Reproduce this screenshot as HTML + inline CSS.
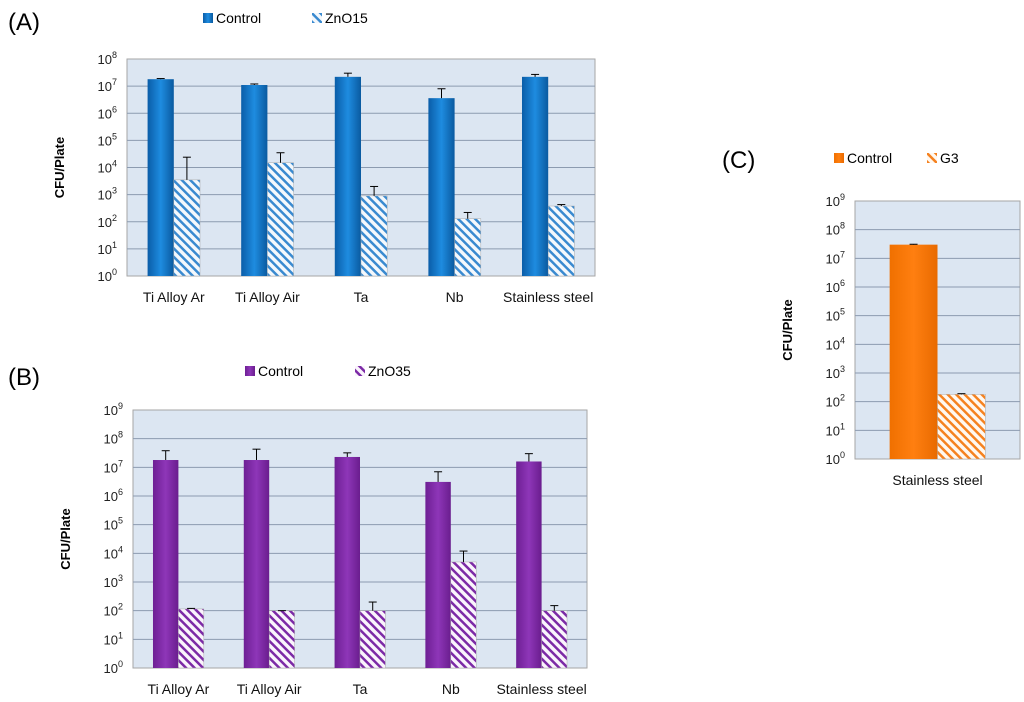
<!DOCTYPE html>
<html><head><meta charset="utf-8"><style>
body{margin:0;background:#fff;width:1024px;height:702px;overflow:hidden;font-family:"Liberation Sans",sans-serif}
svg{position:absolute;left:0;top:0}
</style></head><body>
<svg id="s" width="1024" height="702">
<defs>
<linearGradient id="gBlue" x1="0" x2="1"><stop offset="0" stop-color="#0a5da8"/><stop offset="0.5" stop-color="#1e8ce0"/><stop offset="1" stop-color="#0a5aa0"/></linearGradient>
<linearGradient id="gPurp" x1="0" x2="1"><stop offset="0" stop-color="#6e1f94"/><stop offset="0.5" stop-color="#8e36b8"/><stop offset="1" stop-color="#6a1d8e"/></linearGradient>
<linearGradient id="gOr" x1="0" x2="1"><stop offset="0" stop-color="#f07000"/><stop offset="0.5" stop-color="#ff7f10"/><stop offset="1" stop-color="#e86a00"/></linearGradient>
<pattern id="hBlue" width="6" height="6" patternUnits="userSpaceOnUse" patternTransform="rotate(-45)"><rect width="6" height="6" fill="#f4f8fc"/><rect width="2.5" height="6" fill="#3a8ad0"/></pattern>
<pattern id="hPurp" width="6" height="6" patternUnits="userSpaceOnUse" patternTransform="rotate(-45)"><rect width="6" height="6" fill="#faf4fc"/><rect width="2.5" height="6" fill="#7c2aa6"/></pattern>
<pattern id="hOr" width="6" height="6" patternUnits="userSpaceOnUse" patternTransform="rotate(-45)"><rect width="6" height="6" fill="#fff8f0"/><rect width="2.5" height="6" fill="#f58220"/></pattern>
</defs>
<text x="8" y="30" font-size="24">(A)</text>
<text x="8" y="385" font-size="24">(B)</text>
<text x="722" y="168" font-size="24">(C)</text>
</svg>
<script>
const categoriesAB = ["Ti Alloy Ar","Ti Alloy Air","Ta","Nb","Stainless steel"];
const controlA = [1.8e7,1.1e7,2.2e7,3.6e6,2.2e7];
const controlAErr = [1.9e7,1.2e7,3.0e7,8e6,2.7e7];
const zno15 = [3.5e3,1.5e4,900,130,380];
const zno15Err = [2.4e4,3.5e4,2e3,220,430];
const controlB = [1.8e7,1.8e7,2.3e7,3.1e6,1.6e7];
const controlBErr = [3.8e7,4.3e7,3.2e7,7e6,3e7];
const zno35 = [115,100,100,5e3,100];
const zno35Err = [120,100,200,1.2e4,150];
const categoriesC = ["Stainless steel"];
const controlC = [3e7];
const controlCErr = [3.1e7];
const g3 = [180];
const g3Err = [190];

const svg = document.getElementById('s');
const NS = 'http://www.w3.org/2000/svg';
function mk(tag, attrs, parent){
  const e = document.createElementNS(NS, tag);
  for (const k in attrs) e.setAttribute(k, attrs[k]);
  (parent||svg).appendChild(e);
  return e;
}
function chart(o){
  const g = mk('g', {});
  
  
  const y = v => o.y1 - (Math.log10(v) / o.maxExp) * (o.y1 - o.y0);
  const bg = mk('rect', {x:o.x0, y:o.y0, width:o.x1-o.x0, height:o.y1-o.y0, fill:'#dce6f2', stroke:'#a6a6a6'}, g);
  
  
  for (let i = 0; i <= o.maxExp; i++) {
    const yy = y(Math.pow(10, i));
    if (i > 0 && i < o.maxExp) mk('line', {x1:o.x0, x2:o.x1, y1:yy, y2:yy, stroke:'#8c9bb0', 'stroke-width':1}, g);
    const t = mk('text', {x:o.x0-10, y:yy+5, 'font-size':13, 'text-anchor':'end', fill:'#222'}, g);
    
    
    t.innerHTML = '10<tspan dy="-6" font-size="9">' + i + '</tspan>';
  }
  const n = o.cats.length, gw = (o.x1 - o.x0) / n, bw = gw * o.bw;
  o.cats.forEach((c, i) => {
    const cx = o.x0 + gw * (i + 0.5);
    const series = [[o.a, o.ae, o.fa, -1], [o.b, o.be, o.fb, 0]];
    series.forEach(([vals, errs, fill, off]) => {
      const bx = cx + off * bw, by = y(vals[i]);
      const r = mk('rect', {x:bx, y:by, width:bw, height:o.y1-by, fill:fill, stroke: off ? 'none' : '#aaa', 'stroke-width':0.5}, g);
      
      
      const ey = y(errs[i]), ex = bx + bw / 2;
      mk('line', {x1:ex, x2:ex, y1:by, y2:ey, stroke:'#000', 'stroke-width':1}, g);
      mk('line', {x1:ex-4, x2:ex+4, y1:ey, y2:ey, stroke:'#000', 'stroke-width':1}, g);
    });
    const t = mk('text', {x:cx, y:o.y1+26, 'font-size':14, 'text-anchor':'middle', fill:'#111'}, g);
    
    
    t.textContent = c;
  });
  const at = mk('text', {x:0, y:0, 'font-size':13, 'font-weight':'bold', 'text-anchor':'middle', transform:'translate(' + o.tx + ',' + ((o.y0+o.y1)/2) + ') rotate(-90)'}, g);
  
  
  at.textContent = 'CFU/Plate';
  const l1 = mk('rect', {x:o.lx, y:o.ly-10, width:10, height:10, fill:o.fa}, g);
  
  
  const lt1 = mk('text', {x:o.lx+13, y:o.ly, 'font-size':14}, g);
  
  
  lt1.textContent = 'Control';
  const l2 = mk('rect', {x:o.lx2, y:o.ly-10, width:10, height:10, fill:o.fb}, g);
  
  
  const lt2 = mk('text', {x:o.lx2+13, y:o.ly, 'font-size':14}, g);
  
  
  lt2.textContent = o.lb;
}
chart({name:'chart-a', cats:categoriesAB, a:controlA, ae:controlAErr, b:zno15, be:zno15Err, fa:'url(#gBlue)', fb:'url(#hBlue)', x0:127, x1:595, y0:59, y1:276, maxExp:8, bw:0.28, tx:64, lx:203, lx2:312, ly:23, lb:'ZnO15'});
chart({name:'chart-b', cats:categoriesAB, a:controlB, ae:controlBErr, b:zno35, be:zno35Err, fa:'url(#gPurp)', fb:'url(#hPurp)', x0:133, x1:587, y0:410, y1:668, maxExp:9, bw:0.28, tx:70, lx:245, lx2:355, ly:376, lb:'ZnO35'});
chart({name:'chart-c', cats:categoriesC, a:controlC, ae:controlCErr, b:g3, be:g3Err, fa:'url(#gOr)', fb:'url(#hOr)', x0:855, x1:1020, y0:201, y1:459, maxExp:9, bw:0.29, tx:792, lx:834, lx2:927, ly:163, lb:'G3'});
</script>
</body></html>
